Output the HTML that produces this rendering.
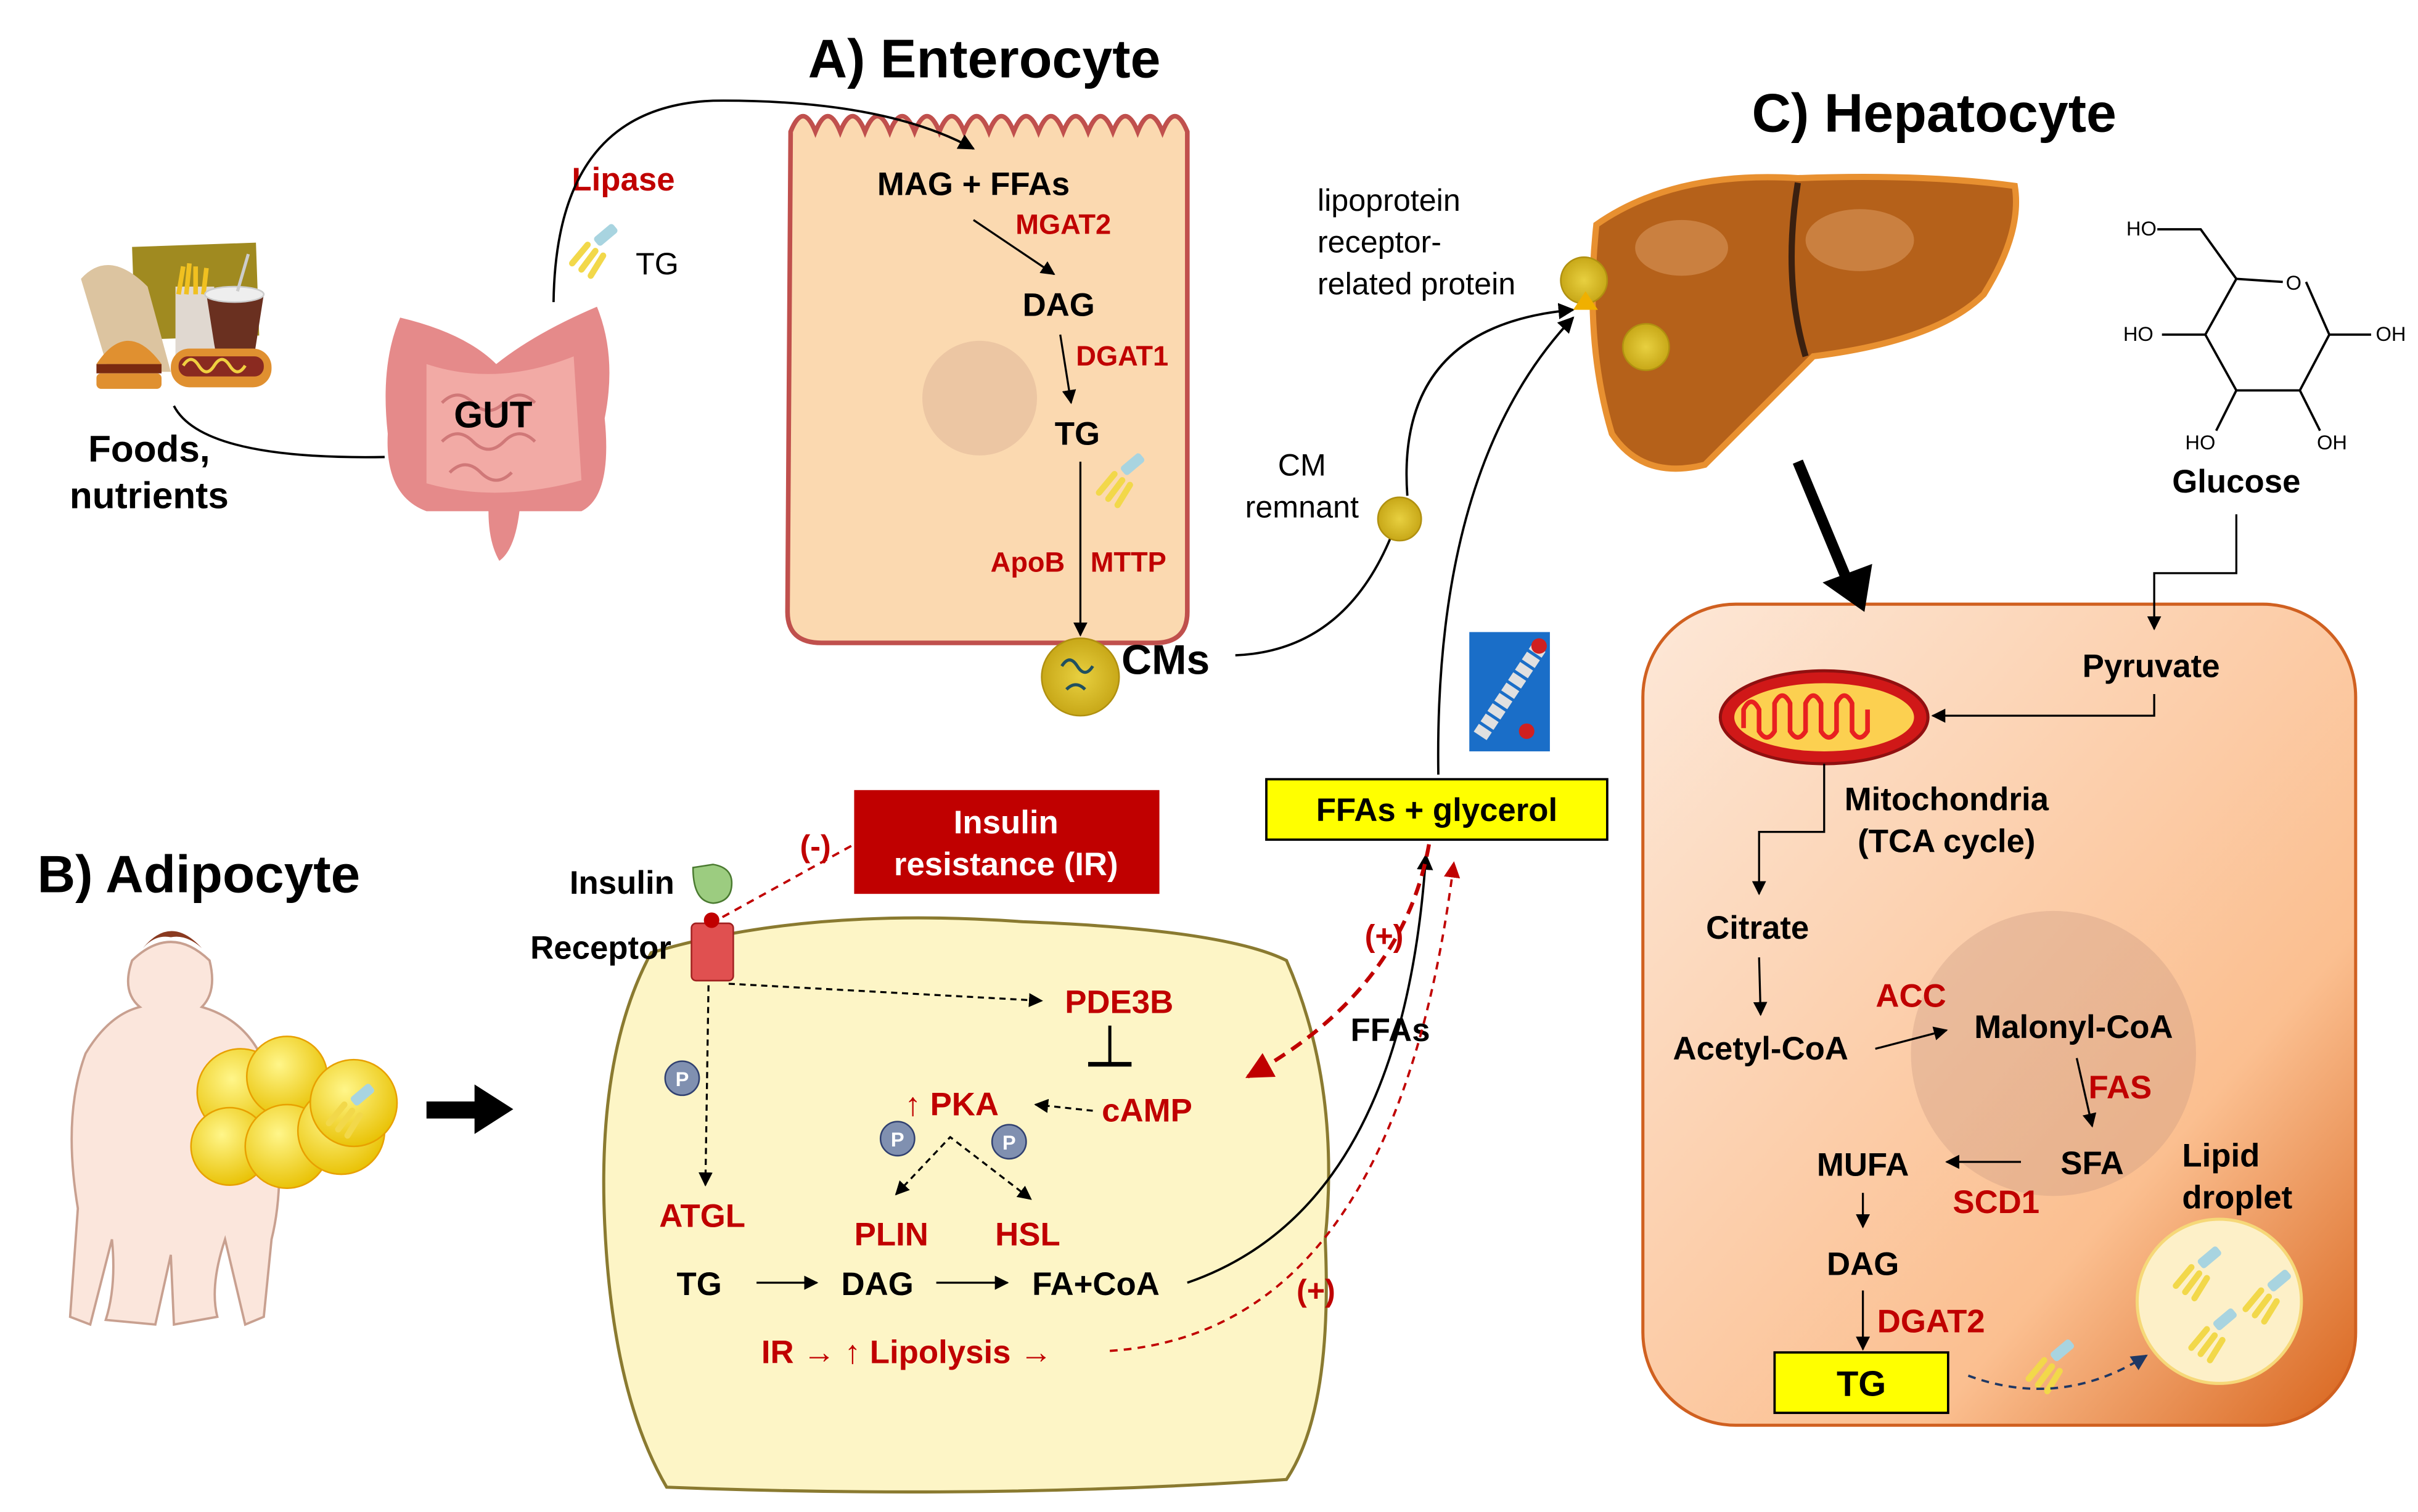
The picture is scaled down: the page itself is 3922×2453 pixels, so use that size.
<!DOCTYPE html>
<html><head><meta charset="utf-8"><style>
html,body{margin:0;padding:0;background:#fff}
svg{display:block}
text{font-family:"Liberation Sans",Arial,sans-serif}
.b{font-weight:bold}
.r{fill:#c00000;font-weight:bold}
</style></head><body>
<svg width="3922" height="2453" viewBox="0 0 1560 976" xmlns="http://www.w3.org/2000/svg">
<defs>
<marker id="ah" viewBox="0 0 10 10" refX="9" refY="5" markerWidth="7" markerHeight="7" orient="auto-start-reverse"><path d="M0,0L10,5L0,10z" fill="#000"/></marker>
<marker id="ahr" viewBox="0 0 10 10" refX="9" refY="5" markerWidth="7" markerHeight="7" orient="auto"><path d="M0,0L10,5L0,10z" fill="#c00000"/></marker>
<marker id="ahn" viewBox="0 0 10 10" refX="9" refY="5" markerWidth="7" markerHeight="7" orient="auto"><path d="M0,0L10,5L0,10z" fill="#1f3864"/></marker>
<linearGradient id="hep" x1="0" y1="0" x2="1" y2="1"><stop offset="0" stop-color="#fde8d8"/><stop offset="0.7" stop-color="#fbbf90"/><stop offset="1" stop-color="#d8641c"/></linearGradient>
<radialGradient id="yb" cx="0.4" cy="0.35" r="0.7"><stop offset="0" stop-color="#fff68a"/><stop offset="1" stop-color="#e8c000"/></radialGradient>
<radialGradient id="cm" cx="0.5" cy="0.5" r="0.5"><stop offset="0" stop-color="#e8d040"/><stop offset="1" stop-color="#c8a818"/></radialGradient>
<g id="tgi"><rect x="8" y="-2" width="16" height="7" rx="2" fill="#a8d4e0" transform="rotate(-40 16 2)"/><path d="M4,8 L-6,20 M9,12 L0,24 M14,15 L6,28" stroke="#f2d84a" stroke-width="4" stroke-linecap="round"/></g>
</defs>

<text x="635" y="50" class="b" font-size="35" text-anchor="middle">A) Enterocyte</text>
<text x="1248" y="85" class="b" font-size="35" text-anchor="middle">C) Hepatocyte</text>
<text x="128" y="576" class="b" font-size="34" text-anchor="middle">B) Adipocyte</text>

<rect x="86" y="158" width="80" height="60" fill="#a08a20" transform="rotate(-2 126 188)"/>
<path d="M52,180 Q70,160 95,185 L110,240 L70,240 Z" fill="#dcc4a0"/>
<rect x="113" y="185" width="25" height="45" fill="#e0d8d0"/>
<path d="M115,190 l3,-18 M120,190 l2,-20 M126,190 l0,-18 M131,190 l2,-17" stroke="#f0c020" stroke-width="3"/>
<path d="M133,190 L170,190 L163,235 L140,235 Z" fill="#6a3020"/>
<ellipse cx="151" cy="190" rx="19" ry="5" fill="#eee" stroke="#ccc"/>
<line x1="153" y1="188" x2="160" y2="164" stroke="#ccc" stroke-width="2"/>
<path d="M62,235 Q82,205 104,235 Z" fill="#e09030"/>
<rect x="62" y="235" width="42" height="6" fill="#7a2a10"/>
<rect x="62" y="241" width="42" height="10" rx="3" fill="#e09030"/>
<rect x="110" y="225" width="65" height="25" rx="12" fill="#e09030"/>
<rect x="115" y="230" width="55" height="13" rx="6" fill="#8a2a20"/>
<path d="M118,236 q5,-8 10,0 q5,8 10,0 q5,-8 10,0 q5,8 10,0" stroke="#f0d040" stroke-width="2" fill="none"/>
<text x="96" y="298" class="b" font-size="24" text-anchor="middle">Foods,</text>
<text x="96" y="328" class="b" font-size="24" text-anchor="middle">nutrients</text>
<path d="M112,262 Q130,297 248,295" stroke="#000" stroke-width="1.5" fill="none"/>

<path d="M258,205 Q300,215 320,235 Q345,215 385,198 Q398,230 390,270 Q395,320 375,330 L335,330 Q332,355 322,362 Q315,350 315,330 L275,330 Q248,320 250,280 Q245,235 258,205 Z" fill="#e58a8a"/>
<path d="M275,235 Q320,250 370,230 L375,310 Q320,325 275,312 Z" fill="#f2aaa5"/>
<path d="M285,260 q10,-10 20,0 q10,10 20,0 q10,-10 20,0 M285,285 q10,-10 20,0 q10,10 20,0 q10,-10 20,0 M290,305 q10,-10 20,0 q10,10 20,0" stroke="#d07878" stroke-width="2" fill="none"/>
<text x="318" y="276" class="b" font-size="24" text-anchor="middle">GUT</text>
<text x="402" y="123" class="r" font-size="21" text-anchor="middle">Lipase</text>
<use href="#tgi" x="375" y="150"/>
<text x="410" y="177" font-size="20">TG</text>

<path d="M510,85 q8,-20 16,0 q8,-20 16,0 q8,-20 16,0 q8,-20 16,0 q8,-20 16,0 q8,-20 16,0 q8,-20 16,0 q8,-20 16,0 q8,-20 16,0 q8,-20 16,0 q8,-20 16,0 q8,-20 16,0 q8,-20 16,0 q8,-20 16,0 q8,-20 16,0 q8,-20 16,0 L766,395 Q766,415 745,415 L530,415 Q508,415 508,395 Z" fill="#fbd9b0" stroke="#c0504d" stroke-width="3"/>
<path d="M357,195 C358,120 385,68 460,65 Q570,64 628,96" stroke="#000" stroke-width="1.5" fill="none" marker-end="url(#ah)"/>
<circle cx="632" cy="257" r="37" fill="#e8c0a0" opacity="0.8"/>
<text x="628" y="126" class="b" font-size="21" text-anchor="middle">MAG + FFAs</text>
<text x="686" y="151" class="r" font-size="18" text-anchor="middle">MGAT2</text>
<line x1="628" y1="142" x2="680" y2="177" stroke="#000" stroke-width="1.3" marker-end="url(#ah)"/>
<text x="683" y="204" class="b" font-size="21" text-anchor="middle">DAG</text>
<text x="724" y="236" class="r" font-size="18" text-anchor="middle">DGAT1</text>
<line x1="684" y1="216" x2="691" y2="260" stroke="#000" stroke-width="1.3" marker-end="url(#ah)"/>
<text x="695" y="287" class="b" font-size="21" text-anchor="middle">TG</text>
<use href="#tgi" x="715" y="298"/>
<line x1="697" y1="298" x2="697" y2="410" stroke="#000" stroke-width="1.3" marker-end="url(#ah)"/>
<text x="663" y="369" class="r" font-size="18" text-anchor="middle">ApoB</text>
<text x="728" y="369" class="r" font-size="18" text-anchor="middle">MTTP</text>
<circle cx="697" cy="437" r="25" fill="url(#cm)" stroke="#b09010"/>
<path d="M685,430 q5,-8 10,0 q5,8 10,0 M688,445 q6,-6 12,0" stroke="#205060" stroke-width="2" fill="none"/>
<text x="752" y="435" class="b" font-size="27" text-anchor="middle">CMs</text>
<path d="M797,423 Q870,420 900,340" stroke="#000" stroke-width="1.5" fill="none"/>
<circle cx="903" cy="335" r="14" fill="url(#cm)" stroke="#b09010"/>
<text x="840" y="307" font-size="20" text-anchor="middle">CM</text>
<text x="840" y="334" font-size="20" text-anchor="middle">remnant</text>
<path d="M908,320 Q900,210 1015,200" stroke="#000" stroke-width="1.5" fill="none" marker-end="url(#ah)"/>
<text x="850" y="136" font-size="20">lipoprotein</text>
<text x="850" y="163" font-size="20">receptor-</text>
<text x="850" y="190" font-size="20">related protein</text>

<path d="M1030,145 Q1080,110 1160,115 Q1240,112 1300,120 Q1305,150 1280,190 Q1250,220 1170,230 Q1140,260 1100,300 Q1060,310 1040,280 Q1022,220 1030,145 Z" fill="#b5611a" stroke="#e89030" stroke-width="4"/>
<path d="M1160,118 Q1150,180 1165,230" stroke="#3a2010" stroke-width="4" fill="none"/>
<ellipse cx="1200" cy="155" rx="35" ry="20" fill="#d8955a" opacity="0.6"/>
<ellipse cx="1085" cy="160" rx="30" ry="18" fill="#d8955a" opacity="0.6"/>
<circle cx="1022" cy="181" r="15" fill="url(#cm)" stroke="#b09010"/>
<path d="M1015,200 l8,-12 l8,12z" fill="#f0b000"/>
<circle cx="1062" cy="224" r="15" fill="url(#cm)" stroke="#b09010"/>

<g stroke="#000" stroke-width="1.5" fill="none">
<path d="M1443,180 L1473,182 M1488,182 L1503,216 L1484,252 L1443,252 L1423,216 L1443,180"/>
<path d="M1443,180 L1420,148 L1392,148 M1423,216 L1395,216 M1443,252 L1430,278 M1484,252 L1497,278 M1503,216 L1530,216"/>
</g>
<text x="1480" y="187" font-size="13" text-anchor="middle">O</text>
<text x="1372" y="152" font-size="13">HO</text>
<text x="1370" y="220" font-size="13">HO</text>
<text x="1410" y="290" font-size="13">HO</text>
<text x="1495" y="290" font-size="13">OH</text>
<text x="1533" y="220" font-size="13">OH</text>
<text x="1443" y="318" class="b" font-size="21" text-anchor="middle">Glucose</text>

<rect x="1060" y="390" width="460" height="530" rx="60" fill="url(#hep)" stroke="#d06020" stroke-width="2"/>
<path d="M1443,332 L1443,370 L1390,370 L1390,406" stroke="#000" stroke-width="1.3" fill="none" marker-end="url(#ah)"/>
<line x1="1160" y1="298" x2="1192" y2="375" stroke="#000" stroke-width="7"/>
<path d="M1176,376 L1203,395 L1208,364 Z" fill="#000"/>
<circle cx="1325" cy="680" r="92" fill="#c89880" opacity="0.35"/>
<ellipse cx="1177" cy="463" rx="67" ry="30" fill="#d01818" stroke="#901010" stroke-width="2"/>
<ellipse cx="1177" cy="463" rx="58" ry="22" fill="#fcd050"/>
<path d="M1125,470 v-12 q5,-10 10,0 v14 q5,8 10,0 v-18 q5,-10 10,0 v18 q5,8 10,0 v-18 q5,-10 10,0 v18 q5,8 10,0 v-18 q5,-10 10,0 v18 q5,8 10,0 v-14" stroke="#e82020" stroke-width="3" fill="none"/>
<text x="1388" y="437" class="b" font-size="21" text-anchor="middle">Pyruvate</text>
<path d="M1390,448 L1390,462 L1247,462" stroke="#000" stroke-width="1.3" fill="none" marker-end="url(#ah)"/>
<path d="M1177,493 L1177,537 L1135,537 L1135,577" stroke="#000" stroke-width="1.3" fill="none" marker-end="url(#ah)"/>
<text x="1256" y="523" class="b" font-size="21" text-anchor="middle">Mitochondria</text>
<text x="1256" y="550" class="b" font-size="21" text-anchor="middle">(TCA cycle)</text>
<text x="1134" y="606" class="b" font-size="21" text-anchor="middle">Citrate</text>
<line x1="1135" y1="618" x2="1136" y2="655" stroke="#000" stroke-width="1.3" marker-end="url(#ah)"/>
<text x="1136" y="684" class="b" font-size="21" text-anchor="middle">Acetyl-CoA</text>
<text x="1233" y="650" class="r" font-size="21" text-anchor="middle">ACC</text>
<line x1="1210" y1="677" x2="1256" y2="665" stroke="#000" stroke-width="1.3" marker-end="url(#ah)"/>
<text x="1338" y="670" class="b" font-size="21" text-anchor="middle">Malonyl-CoA</text>
<text x="1368" y="709" class="r" font-size="21" text-anchor="middle">FAS</text>
<line x1="1340" y1="683" x2="1350" y2="727" stroke="#000" stroke-width="1.3" marker-end="url(#ah)"/>
<text x="1350" y="758" class="b" font-size="21" text-anchor="middle">SFA</text>
<line x1="1304" y1="750" x2="1256" y2="750" stroke="#000" stroke-width="1.3" marker-end="url(#ah)"/>
<text x="1202" y="759" class="b" font-size="21" text-anchor="middle">MUFA</text>
<text x="1288" y="783" class="r" font-size="21" text-anchor="middle">SCD1</text>
<line x1="1202" y1="770" x2="1202" y2="792" stroke="#000" stroke-width="1.3" marker-end="url(#ah)"/>
<text x="1202" y="823" class="b" font-size="21" text-anchor="middle">DAG</text>
<line x1="1202" y1="833" x2="1202" y2="871" stroke="#000" stroke-width="1.3" marker-end="url(#ah)"/>
<text x="1246" y="860" class="r" font-size="21" text-anchor="middle">DGAT2</text>
<rect x="1145" y="873" width="112" height="39" fill="#ffff00" stroke="#000" stroke-width="1.5"/>
<text x="1201" y="901" class="b" font-size="23" text-anchor="middle">TG</text>
<text x="1408" y="753" class="b" font-size="21">Lipid</text>
<text x="1408" y="780" class="b" font-size="21">droplet</text>
<circle cx="1432" cy="840" r="53" fill="#fdf0c8" stroke="#f6d878" stroke-width="2"/>
<use href="#tgi" x="1410" y="810"/><use href="#tgi" x="1455" y="825"/><use href="#tgi" x="1420" y="850"/>
<use href="#tgi" x="1315" y="870"/>
<path d="M1270,888 Q1330,910 1385,875" stroke="#1f3864" stroke-width="1.5" stroke-dasharray="5,4" fill="none" marker-end="url(#ahn)"/>

<rect x="948" y="408" width="52" height="77" fill="#1a6ec8"/>
<path d="M955,475 L993,418" stroke="#e0e0e0" stroke-width="10" stroke-dasharray="6,2"/>
<circle cx="993" cy="417" r="5" fill="#d02020"/><circle cx="985" cy="472" r="5" fill="#d02020"/>
<rect x="817" y="503" width="220" height="39" fill="#ffff00" stroke="#000" stroke-width="1.5"/>
<text x="927" y="530" class="b" font-size="21" text-anchor="middle">FFAs + glycerol</text>
<path d="M928,500 Q925,300 1015,205" stroke="#000" stroke-width="1.5" fill="none" marker-end="url(#ah)"/>

<path d="M420,615 Q520,585 660,595 Q790,600 830,620 Q865,700 855,800 Q860,910 830,955 Q640,968 430,960 Q395,900 390,790 Q385,680 420,615 Z" fill="#fdf5c6" stroke="#8a7a30" stroke-width="2"/>
<rect x="551" y="510" width="197" height="67" fill="#c00000"/>
<text x="649" y="538" fill="#fff" class="b" font-size="21" text-anchor="middle">Insulin</text>
<text x="649" y="565" fill="#fff" class="b" font-size="21" text-anchor="middle">resistance (IR)</text>
<text x="526" y="553" class="r" font-size="20" text-anchor="middle">(-)</text>
<text x="435" y="577" class="b" font-size="21" text-anchor="end">Insulin</text>
<path d="M447,560 Q447,582 460,583 Q472,582 472,570 Q472,560 460,558 Z" fill="#9ccc80" stroke="#4a7a30"/>
<text x="433" y="619" class="b" font-size="21" text-anchor="end">Receptor</text>
<rect x="446" y="596" width="27" height="37" rx="3" fill="#e05050" stroke="#a02020"/>
<circle cx="459" cy="594" r="5" fill="#c00000"/>
<line x1="466" y1="592" x2="551" y2="545" stroke="#c00000" stroke-width="1.5" stroke-dasharray="5,4"/>
<path d="M470,635 L672,646" stroke="#000" stroke-width="1.3" stroke-dasharray="4,3" fill="none" marker-end="url(#ah)"/>
<line x1="457" y1="636" x2="455" y2="765" stroke="#000" stroke-width="1.3" stroke-dasharray="4,3" marker-end="url(#ah)"/>
<text x="722" y="654" class="r" font-size="21" text-anchor="middle">PDE3B</text>
<line x1="716" y1="662" x2="716" y2="686" stroke="#000" stroke-width="2"/>
<line x1="702" y1="687" x2="730" y2="687" stroke="#000" stroke-width="3"/>
<text x="740" y="724" class="r" font-size="21" text-anchor="middle">cAMP</text>
<line x1="705" y1="717" x2="668" y2="713" stroke="#000" stroke-width="1.3" stroke-dasharray="4,3" marker-end="url(#ah)"/>
<text x="614" y="720" class="r" font-size="21" text-anchor="middle">↑ PKA</text>
<g font-size="13" font-weight="bold" fill="#fff" text-anchor="middle">
<circle cx="440" cy="696" r="11" fill="#8090b0" stroke="#304070"/><text x="440" y="701">P</text>
<circle cx="579" cy="735" r="11" fill="#8090b0" stroke="#304070"/><text x="579" y="740">P</text>
<circle cx="651" cy="737" r="11" fill="#8090b0" stroke="#304070"/><text x="651" y="742">P</text>
</g>
<path d="M578,771 L613,734 L665,774" stroke="#000" stroke-width="1.3" stroke-dasharray="4,3" fill="none" marker-start="url(#ah)" marker-end="url(#ah)"/>
<text x="453" y="792" class="r" font-size="21" text-anchor="middle">ATGL</text>
<text x="575" y="804" class="r" font-size="21" text-anchor="middle">PLIN</text>
<text x="663" y="804" class="r" font-size="21" text-anchor="middle">HSL</text>
<text x="451" y="836" class="b" font-size="21" text-anchor="middle">TG</text>
<line x1="488" y1="828" x2="527" y2="828" stroke="#000" stroke-width="1.3" marker-end="url(#ah)"/>
<text x="566" y="836" class="b" font-size="21" text-anchor="middle">DAG</text>
<line x1="604" y1="828" x2="650" y2="828" stroke="#000" stroke-width="1.3" marker-end="url(#ah)"/>
<text x="707" y="836" class="b" font-size="21" text-anchor="middle">FA+CoA</text>
<text x="585" y="880" class="r" font-size="21" text-anchor="middle">IR → ↑ Lipolysis →</text>
<path d="M766,828 Q905,780 920,552" stroke="#000" stroke-width="1.5" fill="none" marker-end="url(#ah)"/>
<text x="897" y="672" class="b" font-size="21" text-anchor="middle">FFAs</text>
<text x="893" y="611" class="r" font-size="20" text-anchor="middle">(+)</text>
<text x="849" y="840" class="r" font-size="20" text-anchor="middle">(+)</text>
<path d="M716,872 Q900,860 938,557" stroke="#c00000" stroke-width="1.5" stroke-dasharray="5,4" fill="none" marker-end="url(#ahr)"/>
<path d="M922,545 Q905,640 805,695" stroke="#c00000" stroke-width="2.5" stroke-dasharray="8,5" fill="none" marker-end="url(#ahr)"/>

<g fill="#fbe6dc" stroke="#c8a090" stroke-width="1.5">
<path d="M85,620 Q110,596 135,620 Q140,640 130,650 Q165,660 175,700 Q185,760 175,800 L170,850 L158,855 L145,800 Q135,830 140,850 L112,855 L110,810 L100,855 L68,852 Q75,830 72,800 L58,855 L45,850 L50,780 Q40,720 55,680 Q70,655 90,650 Q78,640 85,620 Z"/>
</g>
<path d="M92,612 Q110,590 130,612 Q120,603 110,605 Q100,603 92,612Z" fill="#8a3a20"/>
<g stroke="#e8a000" stroke-width="1">
<circle cx="155" cy="705" r="28" fill="url(#yb)"/>
<circle cx="185" cy="695" r="26" fill="url(#yb)"/>
<circle cx="148" cy="740" r="25" fill="url(#yb)"/>
<circle cx="185" cy="740" r="27" fill="url(#yb)"/>
<circle cx="220" cy="730" r="28" fill="url(#yb)"/>
<circle cx="228" cy="712" r="28" fill="url(#yb)"/>
</g>
<use href="#tgi" x="218" y="705"/>
<rect x="275" y="711" width="35" height="11" fill="#000"/>
<path d="M306,700 L331,716 L306,732 Z" fill="#000"/>
</svg>
</body></html>
